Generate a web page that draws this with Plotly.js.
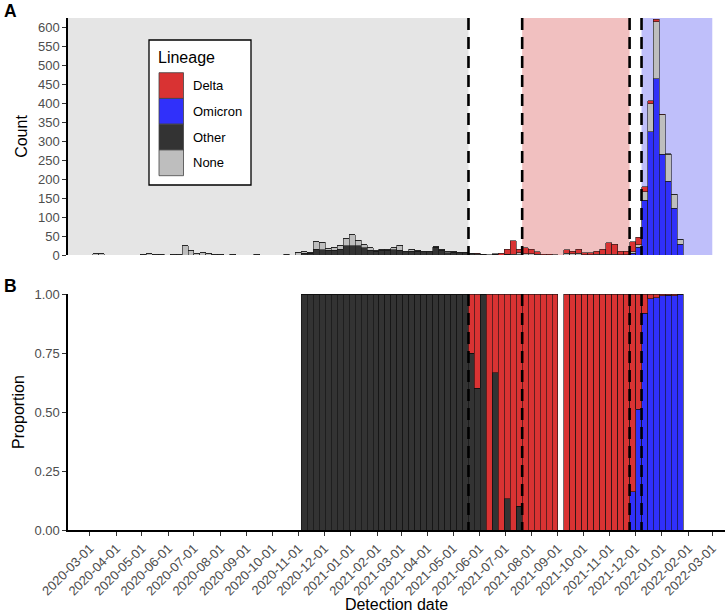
<!DOCTYPE html>
<html><head><meta charset="utf-8">
<script src="https://cdn.plot.ly/plotly-3.0.1.min.js"></script>
<style>html,body{margin:0;padding:0;background:#fff}#chart{width:725px;height:613px}</style>
</head><body><div id="chart"></div>
<script>
// ---- data: weekly bins (week start dates) ----
const weekStart = [
 "2020-03-04","2020-03-11","2020-04-29","2020-05-06","2020-05-13","2020-05-20","2020-06-03","2020-06-10","2020-06-17","2020-06-24",
 "2020-07-01","2020-07-08","2020-07-15","2020-07-22","2020-07-29","2020-08-12","2020-09-09","2020-10-14","2020-10-28",
 "2020-11-04","2020-11-11","2020-11-18","2020-11-25","2020-12-02","2020-12-09","2020-12-16","2020-12-23","2020-12-30","2021-01-06",
 "2021-01-13","2021-01-20","2021-01-27","2021-02-03","2021-02-10","2021-02-17","2021-02-24","2021-03-03","2021-03-10","2021-03-17",
 "2021-03-24","2021-03-31","2021-04-07","2021-04-14","2021-04-21","2021-04-28","2021-05-05","2021-05-12",
 "2021-05-19","2021-05-26","2021-06-02","2021-06-09","2021-06-16","2021-06-23","2021-06-30","2021-07-07","2021-07-14","2021-07-21",
 "2021-07-28","2021-08-04","2021-08-11","2021-08-18","2021-08-25",
 "2021-09-08","2021-09-15","2021-09-22","2021-09-29","2021-10-06","2021-10-13","2021-10-20","2021-10-27","2021-11-03","2021-11-10",
 "2021-11-17","2021-11-24","2021-12-01","2021-12-08","2021-12-15","2021-12-22","2021-12-29","2022-01-05","2022-01-12","2022-01-19"
];
const countOther = [
 0,0,0,0,0,0,0,0,0,0, 0,0,0,0,0,0,0,0,0,
 4,5,15,14,12,12,15,24,24,24, 19,13,10,13,12,14,12,9,10,10, 9,8,20,13,6,7,6,6,
 3,3,2,0,2,0,2,0,1,0, 0,0,0,0,0,
 0,0,0,0,0,0,0,0,0,0, 0,0,0,0,0,0,0,0,0,0
];
const countOmicron = [
 0,0,0,0,0,0,0,0,0,0, 0,0,0,0,0,0,0,0,0,
 0,0,0,0,0,0,0,0,0,0, 0,0,0,0,0,0,0,0,0,0, 0,0,0,0,0,0,0,0,
 0,0,0,0,0,0,0,0,0,0, 0,0,0,0,0,
 0,0,0,0,0,0,0,0,0,0, 0,5,21,145,325,465,266,195,123,28
];
const countNone = [
 3,3,2,3,2,2,2,2,24,12, 3,6,3,2,2,2,2,2,7,
 4,2,20,20,5,9,11,19,30,15, 8,6,2,2,3,5,14,1,5,2, 1,2,2,2,2,1,1,1,
 1,0,0,0,0,0,0,2,5,3, 3,2,0,0,0,
 4,3,4,1,1,2,2,2,2,1, 1,4,6,22,75,151,104,71,37,14
];
const countDelta = [
 0,0,0,0,0,0,0,0,0,0, 0,0,0,0,0,0,0,0,0,
 0,0,0,0,0,0,0,0,0,0, 0,0,0,0,0,0,0,0,0,0, 0,0,0,0,0,0,0,0,
 1,2,0,1,1,4,13,36,9,16, 12,7,2,2,1,
 10,7,11,5,5,8,13,31,27,9, 9,26,20,13,7,7,2,1,1,0
];
const lineageNames = ["Delta","Omicron","Other","None"];
const lineageColors = {Delta:"#D93333", Omicron:"#3030FA", Other:"#333333", None:"#BEBEBE"};
const phaseDates = ["2021-05-19","2021-07-21","2021-11-24","2021-12-08"];
const phaseEnd = "2022-03-01";
const tickDates = ["2020-03-01","2020-04-01","2020-05-01","2020-06-01","2020-07-01","2020-08-01","2020-09-01","2020-10-01","2020-11-01",
 "2020-12-01","2021-01-01","2021-02-01","2021-03-01","2021-04-01","2021-05-01","2021-06-01","2021-07-01","2021-08-01","2021-09-01",
 "2021-10-01","2021-11-01","2021-12-01","2022-01-01","2022-02-01","2022-03-01"];
const propTicks = [0, 0.25, 0.5, 0.75, 1];
const propTickText = ["0.00","0.25","0.50","0.75","1.00"];

// ---- layout geometry (px) ----
const W = 725, H = 613, ML = 68, MR = 0, MT = 18, MB = 83;
const PW = W - ML - MR, PH = H - MT - MB;
const px2x = p => (p - ML) / PW;
const py2y = p => (H - MB - p) / PH;
const xRange = ["2020-02-04 05:00", "2022-03-15 22:00"];
const yTopMax = 626;
const WEEK = 7 * 86400000;
const FONT = "Liberation Sans, Arial, Helvetica, sans-serif";

// ---- traces ----
const series = {Other: countOther, Omicron: countOmicron, None: countNone, Delta: countDelta};
const stackOrder = ["Other","Omicron","None","Delta"];
const traces = [];
stackOrder.forEach(name => {
  traces.push({type:"bar", name, x: weekStart, y: series[name], xaxis:"x", yaxis:"y",
    width: WEEK, offset: 0, marker:{color: lineageColors[name], line:{color:"#1a1a1a", width:0.6}},
    showlegend:false, hoverinfo:"skip"});
});
// proportions among sequenced lineages (None excluded)
const seqTotal = weekStart.map((_, i) => countOther[i] + countOmicron[i] + countDelta[i]);
["Other","Omicron","Delta"].forEach(name => {
  traces.push({type:"bar", name, x: weekStart,
    y: series[name].map((v, i) => seqTotal[i] > 0 ? v / seqTotal[i] : null),
    xaxis:"x2", yaxis:"y2", width: WEEK, offset: 0,
    marker:{color: lineageColors[name], line:{color:"#111", width:0.6}},
    showlegend:false, hoverinfo:"skip"});
});

// ---- shapes ----
const shapes = [
  {type:"rect", xref:"x", yref:"y", x0:xRange[0], x1:phaseDates[0], y0:0, y1:yTopMax, fillcolor:"#E5E5E5", line:{width:0}, layer:"below"},
  {type:"rect", xref:"x", yref:"y", x0:phaseDates[1], x1:phaseDates[2], y0:0, y1:yTopMax, fillcolor:"#F1C0C0", line:{width:0}, layer:"below"},
  {type:"rect", xref:"x", yref:"y", x0:phaseDates[3], x1:phaseEnd, y0:0, y1:yTopMax, fillcolor:"#BFBFFA", line:{width:0}, layer:"below"},
];
phaseDates.forEach(d => {
  shapes.push({type:"line", xref:"x", yref:"y", x0:d, x1:d, y0:yTopMax, y1:0, line:{color:"#000", width:2.6, dash:"12px,7px"}});
  shapes.push({type:"line", xref:"x2", yref:"y2", x0:d, x1:d, y0:1, y1:0, line:{color:"#000", width:2.6, dash:"12px,7px"}});
});
// legend box + keys
const annotations = [];
shapes.push({type:"rect", xref:"paper", yref:"paper", x0:px2x(149), x1:px2x(251), y0:py2y(40), y1:py2y(185),
  fillcolor:"#fff", line:{color:"#000", width:1.3}});
lineageNames.forEach((name, i) => {
  const top = 72.7 + i * 25.75, bot = top + 25.75;
  shapes.push({type:"rect", xref:"paper", yref:"paper", x0:px2x(159), x1:px2x(183.5), y0:py2y(bot), y1:py2y(top),
    fillcolor: lineageColors[name], line:{color:"#444", width:0.8}});
  annotations.push({xref:"paper", yref:"paper", x:px2x(190.5), y:py2y((top+bot)/2), xanchor:"left", yanchor:"middle",
    text:name, showarrow:false, font:{family:FONT, size:13, color:"#000"}});
});
annotations.push({xref:"paper", yref:"paper", x:px2x(156), y:py2y(57), xanchor:"left", yanchor:"middle",
  text:"Lineage", showarrow:false, font:{family:FONT, size:16, color:"#000"}});
annotations.push({xref:"paper", yref:"paper", x:px2x(1.5), y:py2y(11), xanchor:"left", yanchor:"middle",
  text:"<b>A</b>", showarrow:false, font:{family:FONT, size:17.5, color:"#000"}});
annotations.push({xref:"paper", yref:"paper", x:px2x(1.5), y:py2y(286), xanchor:"left", yanchor:"middle",
  text:"<b>B</b>", showarrow:false, font:{family:FONT, size:17.5, color:"#000"}});

const tickFont = {family:FONT, size:13, color:"#4d4d4d"};
const titleFont = {family:FONT, size:16, color:"#000"};
const layout = {
  width:W, height:H, margin:{l:ML, r:MR, t:MT, b:MB, pad:0},
  paper_bgcolor:"#fff", plot_bgcolor:"#fff",
  barmode:"stack", bargap:0, showlegend:false, font:{family:FONT},
  xaxis:{domain:[0,1], anchor:"y", type:"date", range:xRange, showticklabels:false, ticks:"", showline:false,
    showgrid:false, zeroline:false, fixedrange:true},
  yaxis:{domain:[py2y(255), 1], anchor:"x", range:[0, yTopMax], dtick:50, tick0:0, showline:true, linecolor:"#000", linewidth:1.6,
    ticks:"outside", ticklen:4, tickwidth:1, tickcolor:"#333", tickfont:tickFont, showgrid:false, zeroline:false,
    title:{text:"Count", font:titleFont, standoff:6}, fixedrange:true},
  xaxis2:{domain:[0,1], anchor:"y2", type:"date", range:xRange, tickvals:tickDates, ticktext:tickDates, tickangle:-45,
    showline:true, linecolor:"#000", linewidth:1.6, ticks:"outside", ticklen:4, tickwidth:1, tickcolor:"#333",
    tickfont:tickFont, showgrid:false, zeroline:false, title:{text:"Detection date", font:titleFont, standoff:4}, fixedrange:true},
  yaxis2:{domain:[0, py2y(294)], anchor:"x2", range:[0,1], tickvals:propTicks, ticktext:propTickText,
    showline:true, linecolor:"#000", linewidth:1.6, ticks:"outside", ticklen:4, tickwidth:1, tickcolor:"#333",
    tickfont:tickFont, showgrid:false, zeroline:false, title:{text:"Proportion", font:titleFont, standoff:6}, fixedrange:true},
  shapes, annotations
};
Plotly.newPlot("chart", traces, layout, {displayModeBar:false, staticPlot:true});
</script></body></html>
